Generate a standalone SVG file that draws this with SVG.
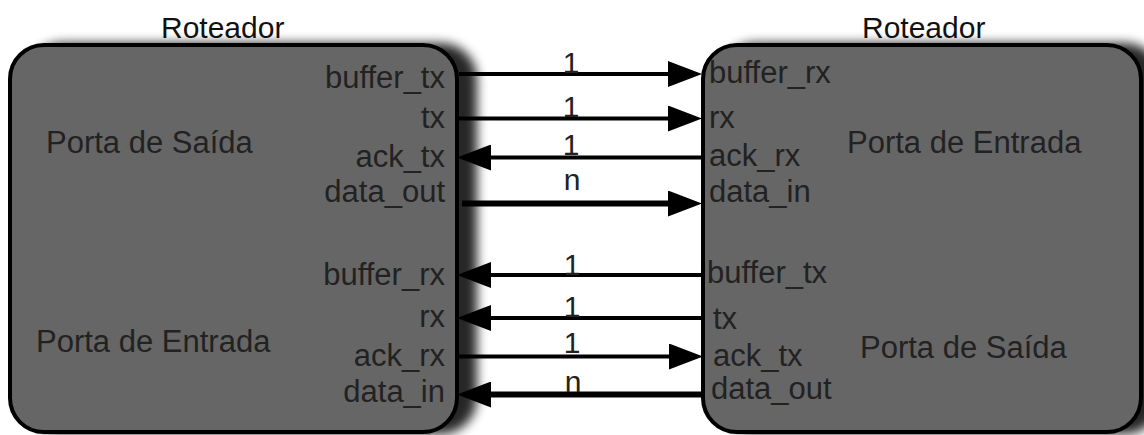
<svg xmlns="http://www.w3.org/2000/svg" width="1144" height="435" viewBox="0 0 1144 435">
  <defs>
    <filter id="shadow" x="-5%" y="-10%" width="130%" height="120%">
      <feGaussianBlur in="SourceAlpha" stdDeviation="5.5"/>
      <feOffset dx="18" dy="0" result="b"/>
      <feComponentTransfer in="b" result="s"><feFuncA type="linear" slope="0.85"/></feComponentTransfer>
      <feMerge><feMergeNode in="s"/><feMergeNode in="SourceGraphic"/></feMerge>
    </filter>
    <marker id="arrow" markerUnits="userSpaceOnUse" markerWidth="34" markerHeight="26" viewBox="0 0 34 26" refX="12" refY="13" orient="auto">
      <path d="M0,0 L34,13 L0,26 z" fill="#000"/>
    </marker>
    <style>
      .box { fill: #666666; stroke: #000; stroke-width: 4; }
      .title { font-family: "Liberation Sans", Arial, sans-serif; font-size: 30px; fill: #111; }
      .port { font-family: "Liberation Sans", Arial, sans-serif; font-size: 31px; fill: #222; }
      .portR { font-family: "Liberation Sans", Arial, sans-serif; font-size: 31px; fill: #222; text-anchor: end; }
      .name { font-family: "Liberation Sans", Arial, sans-serif; font-size: 31px; fill: #222; }
      .lbl { font-family: "Liberation Sans", Arial, sans-serif; font-size: 30px; fill: #222; text-anchor: middle; }
      .wire { stroke: #000; stroke-width: 4; fill: none; marker-end: url(#arrow); }
      .bus { stroke: #000; stroke-width: 6; fill: none; marker-end: url(#arrow); }
    </style>
  </defs>

  <g id="router-left">
    <text class="title" x="161" y="38">Roteador</text>
    <rect class="box" x="10" y="45" width="447" height="387" rx="34" ry="34" filter="url(#shadow)"/>
    <text class="name" x="46" y="153">Porta de Saída</text>
    <text class="name" x="36" y="352">Porta de Entrada</text>
    <text class="portR" x="445" y="88">buffer_tx</text>
    <text class="portR" x="445" y="128">tx</text>
    <text class="portR" x="445" y="167">ack_tx</text>
    <text class="portR" x="445" y="202">data_out</text>
    <text class="portR" x="445" y="285">buffer_rx</text>
    <text class="portR" x="445" y="327">rx</text>
    <text class="portR" x="445" y="366">ack_rx</text>
    <text class="portR" x="445" y="402">data_in</text>
  </g>

  <g id="router-right">
    <text class="title" x="862" y="38">Roteador</text>
    <rect class="box" x="703" y="45" width="438" height="387" rx="34" ry="34" filter="url(#shadow)"/>
    <text class="name" x="847" y="153">Porta de Entrada</text>
    <text class="name" x="860" y="358">Porta de Saída</text>
    <text class="port" x="709" y="83">buffer_rx</text>
    <text class="port" x="709" y="128">rx</text>
    <text class="port" x="709" y="166">ack_rx</text>
    <text class="port" x="709" y="202">data_in</text>
    <text class="port" x="707" y="283">buffer_tx</text>
    <text class="port" x="713" y="329">tx</text>
    <text class="port" x="713" y="366">ack_tx</text>
    <text class="port" x="711" y="399">data_out</text>
  </g>

  <g id="connectors">
    <line class="wire" x1="459" y1="74" x2="680" y2="74"/>
    <line class="wire" x1="459" y1="118.5" x2="680" y2="118.5"/>
    <line class="wire" x1="703" y1="157.5" x2="479" y2="157.5"/>
    <line class="bus" x1="462" y1="203.5" x2="680" y2="203.5"/>
    <line class="wire" x1="705" y1="275" x2="479" y2="275"/>
    <line class="wire" x1="705" y1="318" x2="479" y2="318"/>
    <line class="wire" x1="459" y1="356.5" x2="681" y2="356.5"/>
    <line class="bus" x1="703" y1="394.5" x2="479" y2="394.5"/>

    <text class="lbl" x="571" y="73">1</text>
    <text class="lbl" x="571" y="117">1</text>
    <text class="lbl" x="571" y="155">1</text>
    <text class="lbl" x="572" y="190">n</text>
    <text class="lbl" x="572" y="275">1</text>
    <text class="lbl" x="572" y="317">1</text>
    <text class="lbl" x="572" y="353">1</text>
    <text class="lbl" x="573" y="392">n</text>
  </g>
</svg>
